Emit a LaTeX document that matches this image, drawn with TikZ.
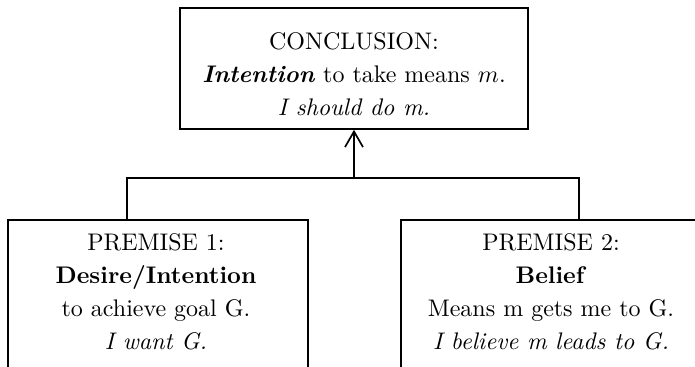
\documentclass[tikz,border=0pt]{standalone}
\usetikzlibrary{arrows.meta}
\begin{document}
\begin{tikzpicture}[x=0.4167pt,y=-0.4167pt,
  box/.style={draw, line width=0.7pt, rectangle, inner sep=0pt},
  txt/.style={align=center, inner sep=0pt, font=\fontsize{10pt}{13.75pt}\selectfont},
  topbox/.style={box, minimum width=145pt, minimum height=50.4pt},
  botbox/.style={box, minimum width=125pt, minimum height=62.5pt},
  link/.style={line width=0.7pt},
  arr/.style={line width=0.7pt, -{Straight Barb[length=6.5pt,width=7.5pt]}}]
\useasboundingbox (0,0) rectangle (695,367);
\node[topbox] (top) at (354,68.5) {};
\node[txt] (toptxt) at (354,74.5) {CONCLUSION:\\ \textbf{\textit{Intention}} to take means $m$.\\ \textit{I should do m.}};
\node[botbox] (p1) at (158,295) {};
\node[txt] (p1txt) at (156,291.5) {PREMISE 1:\\ \textbf{Desire/Intention}\\ to achieve goal G.\\ \textit{I want G.}};
\node[botbox] (p2) at (551,295) {};
\node[txt] (p2txt) at (551,291.5) {PREMISE 2:\\ \textbf{Belief}\\ Means m gets me to G.\\ \textit{I believe m leads to G.}};
\coordinate (jl) at (127,178);
\coordinate (jr) at (579,178);
\coordinate (jm) at (354,178);
\draw[link] (p1.north -| jl) -- (jl) -- (jr) -- (p2.north -| jr);
\draw[arr] (jm) -- (top.south);
\end{tikzpicture}
\end{document}
